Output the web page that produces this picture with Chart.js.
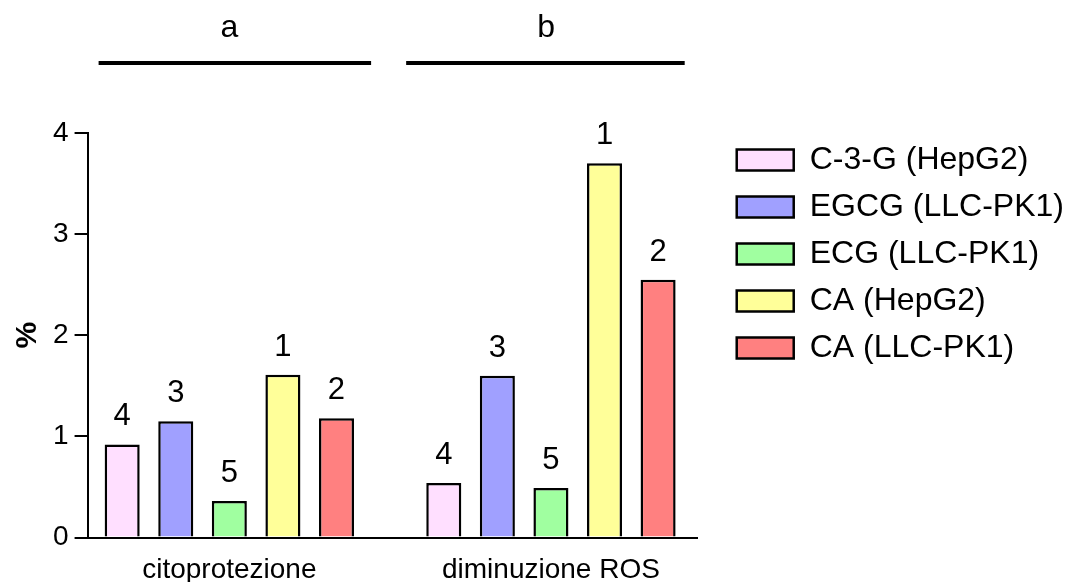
<!DOCTYPE html>
<html lang="it">
<head>
<meta charset="UTF-8">
<title>Citoprotezione e diminuzione ROS</title>
<script src="https://cdn.jsdelivr.net/npm/chart.js"></script>
<style>
  html, body { margin: 0; padding: 0; background: #fff; }
  #chart { display: block; }
</style>
</head>
<body>
<canvas id="chart" width="1075" height="582"></canvas>
<script>
// categories on the x axis and the two group marks above them
const categories = ['citoprotezione', 'diminuzione ROS'];
const groupNames = ['a', 'b'];

// series names (legend) and values in %
const seriesNames = ['C-3-G (HepG2)', 'EGCG (LLC-PK1)', 'ECG (LLC-PK1)', 'CA (HepG2)', 'CA (LLC-PK1)'];
const c3g     = [0.92, 0.54];
const egcg    = [1.15, 1.60];
const ecg     = [0.36, 0.49];
const caHepG2 = [1.61, 3.70];
const caLLC   = [1.18, 2.55];

// rank written above each bar, one list per category
const rankCito = [4, 3, 5, 1, 2];
const rankRos  = [4, 3, 5, 1, 2];

const yTicks = [0, 1, 2, 3, 4];

const colors = ['#FFDFFF', '#A0A0FF', '#A0FFA0', '#FFFF99', '#FF8080'];
const values = [c3g, egcg, ecg, caHepG2, caLLC];
const ranks = [rankCito, rankRos];

const FONT = '"Liberation Sans", Arial, Helvetica, sans-serif';
Chart.defaults.font.family = FONT;
Chart.defaults.color = '#000';

// numbers over the bars
const rankLabels = {
    id: 'rankLabels',
    afterDatasetsDraw(chart) {
        const ctx = chart.ctx;
        ctx.save();
        ctx.fillStyle = '#000';
        ctx.font = '31px ' + FONT;
        ctx.textAlign = 'center';
        ctx.textBaseline = 'alphabetic';
        chart.data.datasets.forEach((ds, d) => {
            chart.getDatasetMeta(d).data.forEach((bar, i) => {
                ctx.fillText(String(ranks[i][d]), bar.x, bar.y - 19);
            });
        });
        ctx.restore();
    }
};

// "a" / "b" with a line under them, over each group
const groupMarks = {
    id: 'groupMarks',
    afterDraw(chart, args, opts) {
        const { ctx, chartArea } = chart;
        const x = chart.scales.x;
        ctx.save();
        ctx.strokeStyle = '#000';
        ctx.lineWidth = 4;
        ctx.fillStyle = '#000';
        ctx.font = '32px ' + FONT;
        ctx.textAlign = 'center';
        ctx.textBaseline = 'alphabetic';
        groupNames.forEach((g, i) => {
            const span = opts.spans[i];
            const ly = chartArea.top - opts.lineOffset;
            ctx.beginPath();
            ctx.moveTo(x.getPixelForValue(span[0]), ly);
            ctx.lineTo(x.getPixelForValue(span[1]), ly);
            ctx.stroke();
            ctx.fillText(g, x.getPixelForValue(opts.textAt[i]), chartArea.top - opts.textOffset);
        });
        ctx.restore();
    }
};

new Chart(document.getElementById('chart'), {
    type: 'bar',
    data: {
        datasets: seriesNames.map((name, d) => ({
            label: name,
            data: values[d].map((v, i) => ({ x: i, y: v })),
            backgroundColor: colors[d],
            borderColor: '#000',
            borderWidth: 2.5,
            xAxisID: 'x',
            yAxisID: 'y'
        }))
    },
    options: {
        responsive: false,
        animation: false,
        categoryPercentage: 0.833,
        barPercentage: 0.654,
        layout: { padding: { top: 129, left: 10, right: 1, bottom: 0 } },
        scales: {
            x: {
                type: 'linear',
                offset: false,
                min: -0.4408,
                max: 1.4564,
                afterBuildTicks: s => { s.ticks = categories.map((c, i) => ({ value: i })); },
                afterFit: s => { s.height = 44.5; },
                ticks: {
                    callback: v => categories[v],
                    autoSkip: false,
                    maxRotation: 0,
                    padding: 19,
                    font: { size: 28, lineHeight: 1 }
                },
                grid: { display: true, offset: false, drawOnChartArea: false, drawTicks: false },
                border: { display: true, color: '#000', width: 2 }
            },
            y: {
                type: 'linear',
                position: 'left',
                min: 0,
                max: 4,
                afterBuildTicks: s => { s.ticks = yTicks.map(v => ({ value: v })); },
                ticks: { padding: 6, font: { size: 28 } },
                grid: { display: true, drawOnChartArea: false, drawTicks: true, tickLength: 13, color: '#000', lineWidth: 2 },
                border: { display: true, color: '#000', width: 2 },
                title: {
                    display: true,
                    text: '%',
                    font: { size: 30, weight: 'bold' },
                    padding: { top: 0, bottom: 1 }
                }
            },
            yR: {
                type: 'linear',
                position: 'right',
                grid: { display: false },
                ticks: { display: false },
                border: { display: false },
                afterFit: s => { s.width = 24; }
            }
        },
        plugins: {
            title: { display: true, text: '', padding: 0, font: { size: 4, lineHeight: 1 } },
            legend: {
                position: 'right',
                align: 'start',
                maxWidth: 400,
                labels: {
                    boxWidth: 57,
                    boxHeight: 21,
                    padding: 15,
                    color: '#000',
                    font: { size: 32 }
                }
            },
            tooltip: { enabled: false },
            groupMarks: {
                spans: [[-0.4065, 0.4408], [0.5498, 1.4159]],
                textAt: [0, 0.985],
                lineOffset: 70,
                textOffset: 96
            }
        }
    },
    plugins: [rankLabels, groupMarks]
});
</script>
</body>
</html>
